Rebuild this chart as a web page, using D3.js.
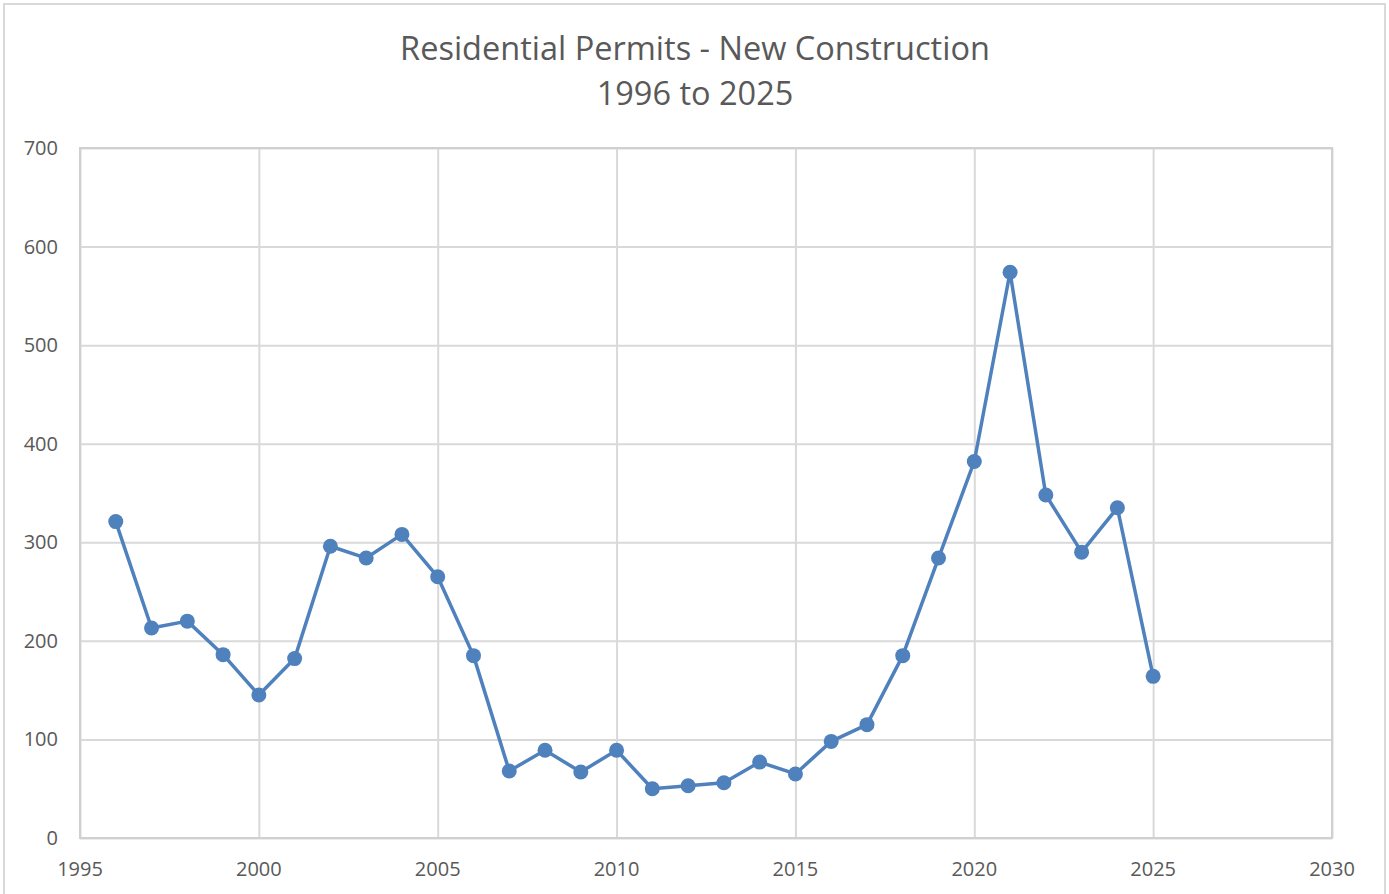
<!DOCTYPE html>
<html>
<head>
<meta charset="utf-8">
<script src="https://cdn.jsdelivr.net/npm/d3@7"></script>
<style>
  body { margin: 0; background: #fff; }
  text { font-family: "Open Sans", "Noto Sans", sans-serif; fill: #595959; }
</style>
</head>
<body>
<div id="chart"></div>
<script>
const years = [1996, 1997, 1998, 1999, 2000, 2001, 2002, 2003, 2004, 2005,
  2006, 2007, 2008, 2009, 2010, 2011, 2012, 2013, 2014, 2015,
  2016, 2017, 2018, 2019, 2020, 2021, 2022, 2023, 2024, 2025];
const permits = [321, 213, 220, 186, 145, 182, 296, 284, 308, 265,
  185, 68, 89, 67, 89, 50, 53, 56, 77, 65,
  98, 115, 185, 284, 382, 574, 348, 290, 335, 164];
const xTicks = [1995, 2000, 2005, 2010, 2015, 2020, 2025, 2030];
const yTicks = [0, 100, 200, 300, 400, 500, 600, 700];
const titleLines = ["Residential Permits - New Construction", "1996 to 2025"];

const w = 1389, h = 894;
const plotLeft = 80, plotRight = 1332, plotTop = 148, plotBottom = 838;

const svg = d3.select('#chart').append('svg')
  .attr('width', w)
  .attr('height', h);

// outer chart border
svg.append('rect')
  .attr('x', 4).attr('y', 4)
  .attr('width', 1381).attr('height', 900)
  .attr('fill', 'none')
  .attr('stroke', '#d9d9d9')
  .attr('stroke-width', 2);

const x = d3.scaleLinear().domain([1995, 2030]).range([plotLeft, plotRight]);
const y = d3.scaleLinear().domain([0, 700]).range([plotBottom, plotTop]);

// gridlines
svg.append('g')
  .attr('transform', 'translate(0,' + plotBottom + ')')
  .call(d3.axisBottom(x).tickValues(xTicks).tickSize(-(plotBottom - plotTop)).tickFormat(''))
  .call(g => g.select('.domain').remove())
  .selectAll('line').attr('stroke', '#d9d9d9').attr('stroke-width', 2);

svg.append('g')
  .attr('transform', 'translate(' + plotLeft + ',0)')
  .call(d3.axisLeft(y).tickValues(yTicks).tickSize(-(plotRight - plotLeft)).tickFormat(''))
  .call(g => g.select('.domain').remove())
  .selectAll('line').attr('stroke', '#d9d9d9').attr('stroke-width', 2);

// plot border
svg.append('rect')
  .attr('x', plotLeft).attr('y', plotTop)
  .attr('width', plotRight - plotLeft).attr('height', plotBottom - plotTop)
  .attr('fill', 'none')
  .attr('stroke', '#d0d0d0')
  .attr('stroke-width', 2);

// tick labels
svg.append('g').selectAll('text')
  .data(yTicks)
  .enter().append('text')
  .attr('x', plotLeft - 22)
  .attr('y', d => y(d))
  .attr('dy', '0.35em')
  .attr('text-anchor', 'end')
  .style('font-size', '20px')
  .text(d => d);

svg.append('g').selectAll('text')
  .data(xTicks)
  .enter().append('text')
  .attr('x', d => x(d))
  .attr('y', plotBottom + 38)
  .attr('text-anchor', 'middle')
  .style('font-size', '20px')
  .text(d => d);

// series
const line = d3.line()
  .x((d, i) => x(years[i]))
  .y(d => y(d));

svg.append('path')
  .datum(permits)
  .attr('d', line)
  .attr('fill', 'none')
  .attr('stroke', '#4f81bd')
  .attr('stroke-width', 3.5)
  .attr('stroke-linejoin', 'round');

svg.append('g').selectAll('circle')
  .data(permits)
  .enter().append('circle')
  .attr('cx', (d, i) => x(years[i]))
  .attr('cy', d => y(d))
  .attr('r', 7.5)
  .attr('fill', '#4f81bd');

// title
svg.append('g').selectAll('text')
  .data(titleLines)
  .enter().append('text')
  .attr('x', 695)
  .attr('y', (d, i) => 60 + i * 45)
  .attr('text-anchor', 'middle')
  .style('font-size', '32.5px')
  .text(d => d);
</script>
</body>
</html>
